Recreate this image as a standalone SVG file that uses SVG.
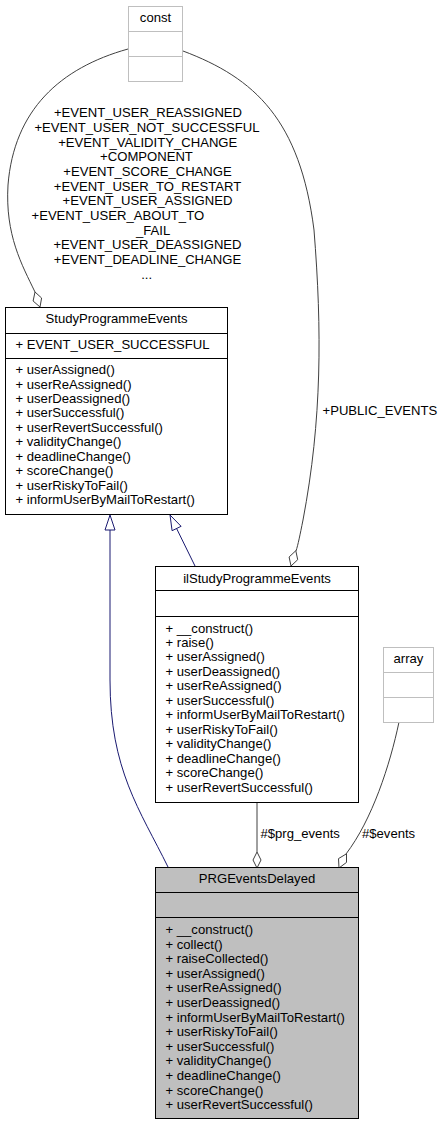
<svg xmlns="http://www.w3.org/2000/svg" width="446" height="1125" viewBox="0 0 446 1125">
<style>
text{font-family:"Liberation Sans",Arial,sans-serif;font-size:13.1px;fill:#000}
.c{text-anchor:middle}
.box{fill:#fff;stroke:#000;stroke-width:1}
.gbox{fill:#fff;stroke:#bfbfbf;stroke-width:1}
.cur{fill:#bfbfbf;stroke:#000;stroke-width:1}
.div{stroke:#000;stroke-width:1}
.gdiv{stroke:#bfbfbf;stroke-width:1}
.e{fill:none;stroke:#404040;stroke-width:1}
.inh{fill:none;stroke:#191970;stroke-width:1}
.dia{fill:#fff;stroke:#404040;stroke-width:1}
.tri{fill:#fff;stroke:#191970;stroke-width:1}
</style>
<rect width="446" height="1125" fill="#fff"/>
<g id="connectors">
  <path class="e" d="M128,49 C60,68 14,110 8,185 C5,235 22,265 35,292"/>
  <polygon class="dia" points="40,307 41.6,298 35,292 33.1,301"/>
  <path class="e" d="M183,51 C255,78 300,120 314,230 C322,330 322,420 303,520 C300,535 298,545 296,551"/>
  <polygon class="dia" points="291,566 297.7,559.7 295.8,550.7 289.1,557"/>
  <path class="inh" d="M168,867 C140,810 110,770 110,680 L110,530"/>
  <polygon class="tri" points="110,515 115,530 105,530"/>
  <path class="inh" d="M195,566 L176.6,528.5"/>
  <polygon class="tri" points="170,515 181.1,526.3 172.1,530.7"/>
  <path class="e" d="M257,803 L257,852"/>
  <polygon class="dia" points="257,868 261,860 257,852 253,860"/>
  <path class="e" d="M399,722 C390,765 372,820 346,854"/>
  <polygon class="dia" points="339,868 346.5,862.4 346.5,853.8 338.5,858.6"/>
  <g id="labels">
    <text class="c" x="148" y="117.3">+EVENT_USER_REASSIGNED</text>
    <text class="c" x="147" y="132">+EVENT_USER_NOT_SUCCESSFUL</text>
    <text class="c" x="147.7" y="146.6">+EVENT_VALIDITY_CHANGE</text>
    <text class="c" x="146.5" y="161.3">+COMPONENT</text>
    <text class="c" x="147.5" y="175.9">+EVENT_SCORE_CHANGE</text>
    <text class="c" x="147.5" y="190.6">+EVENT_USER_TO_RESTART</text>
    <text class="c" x="147.5" y="205.2">+EVENT_USER_ASSIGNED</text>
    <text x="31.5" y="219.9">+EVENT_USER_ABOUT_TO</text>
    <text x="136" y="234.5">_FAIL</text>
    <text class="c" x="147.5" y="249.2">+EVENT_USER_DEASSIGNED</text>
    <text class="c" x="147.5" y="263.8">+EVENT_DEADLINE_CHANGE</text>
    <text class="c" x="146.7" y="278.5">...</text>
    <text x="322.5" y="415">+PUBLIC_EVENTS</text>
    <text x="260.5" y="838.3">#$prg_events</text>
    <text x="362" y="838.3">#$events</text>
  </g>
</g>
<g id="const">
  <rect class="gbox" x="128.5" y="6.5" width="54" height="75"/>
  <line class="gdiv" x1="128.5" y1="31.5" x2="182.5" y2="31.5"/>
  <line class="gdiv" x1="128.5" y1="56.5" x2="182.5" y2="56.5"/>
  <text class="c" x="155.5" y="22">const</text>
</g>
<g id="StudyProgrammeEvents">
  <rect class="box" x="5.5" y="307.5" width="222" height="207"/>
  <line class="div" x1="5.5" y1="333.5" x2="227.5" y2="333.5"/>
  <line class="div" x1="5.5" y1="358.5" x2="227.5" y2="358.5"/>
  <text class="c" x="116.5" y="323.3">StudyProgrammeEvents</text>
  <text x="15.5" y="349">+ EVENT_USER_SUCCESSFUL</text>
  <text x="15.5" y="374">+ userAssigned()</text>
  <text x="15.5" y="388.5">+ userReAssigned()</text>
  <text x="15.5" y="403">+ userDeassigned()</text>
  <text x="15.5" y="417.4">+ userSuccessful()</text>
  <text x="15.5" y="431.9">+ userRevertSuccessful()</text>
  <text x="15.5" y="446.4">+ validityChange()</text>
  <text x="15.5" y="460.9">+ deadlineChange()</text>
  <text x="15.5" y="475.4">+ scoreChange()</text>
  <text x="15.5" y="489.8">+ userRiskyToFail()</text>
  <text x="15.5" y="504.3">+ informUserByMailToRestart()</text>
</g>
<g id="ilStudyProgrammeEvents">
  <rect class="box" x="155.5" y="566.5" width="203" height="236"/>
  <line class="div" x1="155.5" y1="590.5" x2="358.5" y2="590.5"/>
  <line class="div" x1="155.5" y1="616.5" x2="358.5" y2="616.5"/>
  <text class="c" x="257" y="582.7">ilStudyProgrammeEvents</text>
  <text x="165.5" y="632.5">+ __construct()</text>
  <text x="165.5" y="647">+ raise()</text>
  <text x="165.5" y="661.4">+ userAssigned()</text>
  <text x="165.5" y="675.9">+ userDeassigned()</text>
  <text x="165.5" y="690.3">+ userReAssigned()</text>
  <text x="165.5" y="704.8">+ userSuccessful()</text>
  <text x="165.5" y="719.2">+ informUserByMailToRestart()</text>
  <text x="165.5" y="733.7">+ userRiskyToFail()</text>
  <text x="165.5" y="748.1">+ validityChange()</text>
  <text x="165.5" y="762.6">+ deadlineChange()</text>
  <text x="165.5" y="777">+ scoreChange()</text>
  <text x="165.5" y="791.5">+ userRevertSuccessful()</text>
</g>
<g id="array">
  <rect class="gbox" x="383.5" y="647.5" width="50" height="75"/>
  <line class="gdiv" x1="383.5" y1="672.5" x2="433.5" y2="672.5"/>
  <line class="gdiv" x1="383.5" y1="697.5" x2="433.5" y2="697.5"/>
  <text class="c" x="408.5" y="663">array</text>
</g>
<g id="PRGEventsDelayed">
  <rect class="cur" x="155.5" y="867.5" width="203" height="251"/>
  <line class="div" x1="155.5" y1="892.5" x2="358.5" y2="892.5"/>
  <line class="div" x1="155.5" y1="917.5" x2="358.5" y2="917.5"/>
  <text class="c" x="257" y="882.7">PRGEventsDelayed</text>
  <text x="165.5" y="934">+ __construct()</text>
  <text x="165.5" y="948.6">+ collect()</text>
  <text x="165.5" y="963.2">+ raiseCollected()</text>
  <text x="165.5" y="977.8">+ userAssigned()</text>
  <text x="165.5" y="992.4">+ userReAssigned()</text>
  <text x="165.5" y="1007">+ userDeassigned()</text>
  <text x="165.5" y="1021.6">+ informUserByMailToRestart()</text>
  <text x="165.5" y="1036.2">+ userRiskyToFail()</text>
  <text x="165.5" y="1050.8">+ userSuccessful()</text>
  <text x="165.5" y="1065.4">+ validityChange()</text>
  <text x="165.5" y="1080">+ deadlineChange()</text>
  <text x="165.5" y="1094.6">+ scoreChange()</text>
  <text x="165.5" y="1109.2">+ userRevertSuccessful()</text>
</g>
</svg>
